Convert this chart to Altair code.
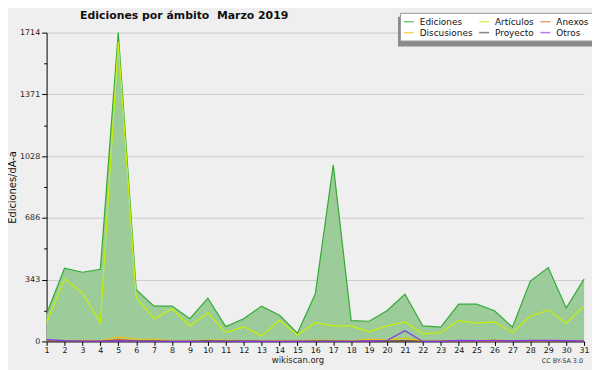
import altair as alt
import pandas as pd

days = list(range(1, 32))
series_names = ["Ediciones", "Artículos", "Anexos", "Discusiones", "Proyecto", "Otros"]
ediciones = [154, 406, 384, 400, 1714, 287, 196, 196, 126, 240, 82, 126, 196, 145, 46, 264,
             980, 115, 112, 170, 262, 86, 79, 207, 207, 170, 79, 335, 410, 185, 346]
articulos = [104, 346, 269, 104, 1663, 245, 126, 181, 86, 159, 49, 81, 31, 117, 36, 104,
             86, 86, 53, 86, 108, 42, 48, 115, 102, 108, 49, 141, 174, 101, 196]
anexos = [2, 1, 1, 1, 12, 3, 2, 1, 0, 2, 1, 1, 0, 1, 0, 1, 1, 0, 1, 1, 2, 0, 0, 1, 1, 2, 1, 1, 1, 1, 1]
discusiones = [3, 4, 6, 4, 26, 12, 12, 3, 2, 7, 6, 4, 2, 3, 2, 8, 5, 3, 12, 8, 18, 2, 2, 4, 5, 8, 3, 5, 5, 4, 3]
proyecto = [2, 1, 1, 1, 3, 2, 2, 1, 1, 3, 2, 2, 1, 1, 1, 2, 2, 1, 2, 2, 3, 1, 1, 3, 3, 6, 2, 3, 3, 2, 1]
otros = [10, 4, 2, 2, 2, 1, 1, 0, 0, 1, 1, 0, 0, 0, 0, 1, 1, 1, 2, 5, 60, 0, 0, 6, 4, 5, 3, 6, 6, 4, 2]

y_major = [0, 343, 686, 1028, 1371, 1714]
y_minor = [171.5, 514.5, 857, 1199.5, 1542.5]

line_colors = ["#33aa33", "#c8f000", "#ee6622", "#f0c000", "#444444", "#8833ee"]

all_values = [ediciones, articulos, anexos, discusiones, proyecto, otros]
rows = []
for i, (name, vals) in enumerate(zip(series_names, all_values)):
    for d, v in zip(days, vals):
        rows.append({"day": d, "series": name, "orden": i, "value": v})
df = pd.DataFrame(rows)

FONT = "DejaVu Sans"
xscale = alt.Scale(domain=[1, 31], nice=False, zero=False)
yscale = alt.Scale(domain=[0, 1714], nice=False, zero=True)
xaxis = alt.Axis(values=days, title=None, grid=False, tickSize=4, labelFontSize=8,
                 labelFont=FONT, labelColor="#111", labelPadding=1, domainColor="black",
                 tickColor="black", labelFlush=False, labelOverlap=False, format="d")

base = alt.Chart(df)

shadow = alt.Chart(pd.DataFrame({"a": [0]})).mark_rect(color="#8a8a8a").encode(
    x=alt.value(355), x2=alt.value(551), y=alt.value(-16), y2=alt.value(14)
)

area = base.transform_filter(alt.datum.series == "Ediciones").mark_area(
    color="#9dcc9b", opacity=1
).encode(
    x=alt.X("day:Q", scale=xscale, axis=xaxis),
    y=alt.Y("value:Q", scale=yscale, axis=alt.Axis(
        values=y_major, format="d", title="Ediciones/dÃ-a", grid=True, gridColor="#cccccc",
        tickSize=5, labelFontSize=8, labelFont=FONT, labelColor="#222", labelPadding=2,
        domainColor="black", tickColor="black", orient="left",
        titleFont=FONT, titleFontSize=10, titleFontWeight="normal", titleColor="#111",
        titleX=-34, titleY=156, titleAngle=270, titleAlign="center", titleBaseline="middle")),
)

minor = base.transform_filter(alt.datum.series == "Ediciones").mark_line(strokeWidth=0).encode(
    x=alt.X("day:Q", scale=xscale, axis=xaxis),
    y=alt.Y("value:Q", scale=yscale, axis=alt.Axis(
        values=y_minor, labels=False, grid=False, tickSize=3, domain=False,
        tickColor="black", orient="left", title=None)),
)

lines = base.mark_line(strokeWidth=1.2).encode(
    x=alt.X("day:Q", scale=xscale, axis=xaxis),
    y=alt.Y("value:Q", scale=yscale, axis=None),
    color=alt.Color("series:N", sort=series_names,
                    scale=alt.Scale(domain=series_names, range=line_colors),
                    legend=alt.Legend(orient="none", legendX=357, legendY=-20, columns=3,
                                      direction="horizontal",
                                      title=None, symbolType="stroke", symbolSize=100,
                                      symbolStrokeWidth=1.5, symbolOpacity=0.65,
                                      labelFontSize=9, labelFont=FONT, labelColor="#111",
                                      fillColor="white", strokeColor="#999999", padding=3,
                                      columnPadding=3, rowPadding=-1, labelOffset=5)),
    order=alt.Order("day:Q"),
)

title = alt.Chart(pd.DataFrame({"t": ["Ediciones por ámbito\u00a0 Marzo 2019"]})).mark_text(
    font=FONT, fontSize=11, fontWeight="bold", color="#111", align="center", baseline="middle"
).encode(text="t:N", x=alt.value(139), y=alt.value(-17))

footer1 = alt.Chart(pd.DataFrame({"t": ["wikiscan.org"]})).mark_text(
    font=FONT, fontSize=8.5, color="#222", align="center", baseline="middle"
).encode(text="t:N", x=alt.value(254), y=alt.value(331))

footer2 = alt.Chart(pd.DataFrame({"t": ["CC BY-SA 3.0"]})).mark_text(
    font=FONT, fontSize=6.5, color="#333", align="right", baseline="middle"
).encode(text="t:N", x=alt.value(542), y=alt.value(332))

chart = alt.layer(shadow, area, minor, lines, title, footer1, footer2).resolve_axis(
    y="independent"
).properties(
    width=543, height=312,
    autosize=alt.AutoSizeParams(type="none"),
    padding={"left": 39, "top": 23, "right": 8, "bottom": 27},
    background="#efefef",
).configure_view(strokeWidth=0)

chart.save("out.html", embed_options={"renderer": "svg", "actions": False})
